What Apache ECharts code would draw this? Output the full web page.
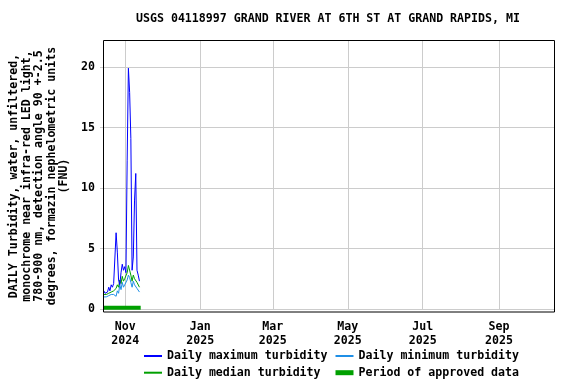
<!DOCTYPE html>
<html><head><meta charset="utf-8">
<script src="https://cdn.jsdelivr.net/npm/echarts@6/dist/echarts.min.js"></script>
<style>html,body{margin:0;padding:0;background:#fff}#c{width:576px;height:384px}</style>
</head><body><div id="c"></div>
<script>
const titleText = 'USGS 04118997 GRAND RIVER AT 6TH ST AT GRAND RAPIDS, MI';
const yAxisTitle = 'DAILY Turbidity, water, unfiltered,\nmonochrome near infra-red LED light,\n780-900 nm, detection angle 90 +-2.5\ndegrees, formazin nephelometric units\n(FNU)';
const dates = ['2024-10-14','2024-10-15','2024-10-16','2024-10-17','2024-10-18','2024-10-19','2024-10-20','2024-10-21','2024-10-22','2024-10-23',
  '2024-10-24','2024-10-25','2024-10-26','2024-10-27','2024-10-28','2024-10-29','2024-10-30','2024-10-31','2024-11-01','2024-11-02',
  '2024-11-03','2024-11-04','2024-11-05','2024-11-06','2024-11-07','2024-11-08','2024-11-09','2024-11-10','2024-11-11','2024-11-12'];
const maxVals = [1.5,1.3,1.3,1.4,1.8,1.5,2.0,1.8,2.1,2.2,
  6.3,4.7,2.4,2.0,3.0,3.7,3.2,3.5,3.0,12.3,
  19.9,17.9,14.1,3.2,4.3,9.0,11.2,3.2,2.8,2.3];
const medianVals = [1.2,1.2,1.2,1.3,1.3,1.4,1.4,1.5,1.5,1.4,
  1.7,2.0,1.8,2.4,2.1,2.7,2.3,2.5,2.4,3.0,
  3.6,3.5,2.8,2.3,2.8,2.5,2.6,2.2,2.1,1.8];
const minVals = [1.0,1.0,1.0,1.1,1.1,1.15,1.2,1.2,1.2,1.1,
  1.05,1.5,1.3,2.0,1.6,2.2,1.8,2.0,1.9,2.4,
  2.8,2.6,2.2,1.8,2.3,2.0,2.1,1.7,1.6,1.4];
const approvedPeriod = ['2024-10-14T00:00:00Z','2024-11-13T12:00:00Z'];
const approvedLevel = 0.1;
const xTickDates = ['2024-11-01','2025-01-01','2025-03-01','2025-05-01','2025-07-01','2025-09-01'];
const yTicks = [0,5,10,15,20];
const xRange = ['2024-10-13T20:00:00Z','2025-10-15T20:00:00Z'];
const yRange = [0, 22.23];
const seriesNames = ['Daily maximum turbidity','Daily minimum turbidity','Daily median turbidity','Period of approved data'];

const MONTHS = ['Jan','Feb','Mar','Apr','May','Jun','Jul','Aug','Sep','Oct','Nov','Dec'];
const t = s => Date.parse(s.length === 10 ? s + 'T12:00:00Z' : s);
const tick = s => Date.parse(s + 'T00:00:00Z');
const FONT = '"DejaVu Sans Mono", monospace';
const txt = {fontFamily: FONT, fontWeight: 'bold', fontSize: 11.6, color: '#000'};

const chart = echarts.init(document.getElementById('c'), null, {renderer: 'canvas'});
const mk = vals => dates.map((d, i) => [t(d), vals[i]]);
const legendBase = {orient: 'vertical', top: 349, padding: 0, itemWidth: 18, itemHeight: 10, itemGap: 2.7,
  itemStyle: {opacity: 0}, textStyle: Object.assign({}, txt, {lineHeight: 14})};
chart.setOption({
  animation: false,
  backgroundColor: '#fff',
  title: {text: titleText, left: 136, top: 12, padding: 0,
    textStyle: Object.assign({}, txt, {lineHeight: 14})},
  grid: {left: 103, right: 22, top: 40, bottom: 75},
  xAxis: {
    type: 'value', min: Date.parse(xRange[0]), max: Date.parse(xRange[1]),
    axisLine: {show: false},
    axisTick: {show: false, customValues: xTickDates.map(tick)},
    axisLabel: Object.assign({}, txt, {customValues: xTickDates.map(tick), margin: 11, lineHeight: 14,
      formatter: v => { const d = new Date(v); return MONTHS[d.getUTCMonth()] + '\n' + d.getUTCFullYear(); }}),
    splitLine: {show: true, lineStyle: {color: '#cccccc', width: 1}}
  },
  yAxis: {
    type: 'value', min: yRange[0], max: yRange[1],
    axisLine: {show: false},
    axisTick: {show: true, length: 3, customValues: yTicks, lineStyle: {color: '#cccccc'}},
    axisLabel: Object.assign({}, txt, {customValues: yTicks, margin: 8}),
    splitLine: {show: true, lineStyle: {color: '#cccccc', width: 1}}
  },
  legend: [
    Object.assign({}, legendBase, {data: [seriesNames[0], seriesNames[2]], left: 143}),
    Object.assign({}, legendBase, {data: [seriesNames[1], {name: seriesNames[3], lineStyle: {width: 5}}], left: 333})
  ],
  graphic: [
    {type: 'rect', z: 100, shape: {x: 103.5, y: 40.5, width: 451, height: 271.5},
      style: {fill: 'none', stroke: '#000', lineWidth: 1}},
    {type: 'text', x: 39, y: 176, rotation: Math.PI / 2,
      style: {text: yAxisTitle, align: 'center', verticalAlign: 'middle', lineHeight: 12.5,
        font: 'bold 11.6px ' + FONT, fill: '#000'}}
  ],
  series: [
    {name: seriesNames[3], type: 'line', symbol: 'none', color: '#00a000',
      lineStyle: {width: 4, color: '#00a000', cap: 'butt'},
      data: approvedPeriod.map(s => [Date.parse(s), approvedLevel])},
    {name: seriesNames[1], type: 'line', symbol: 'none', color: '#1f8fe6',
      lineStyle: {width: 1, color: '#1f8fe6'}, data: mk(minVals)},
    {name: seriesNames[2], type: 'line', symbol: 'none', color: '#00a000',
      lineStyle: {width: 1, color: '#00a000'}, data: mk(medianVals)},
    {name: seriesNames[0], type: 'line', symbol: 'none', color: '#0000ff',
      lineStyle: {width: 1, color: '#0000ff'}, data: mk(maxVals)}
  ]
});
</script></body></html>
